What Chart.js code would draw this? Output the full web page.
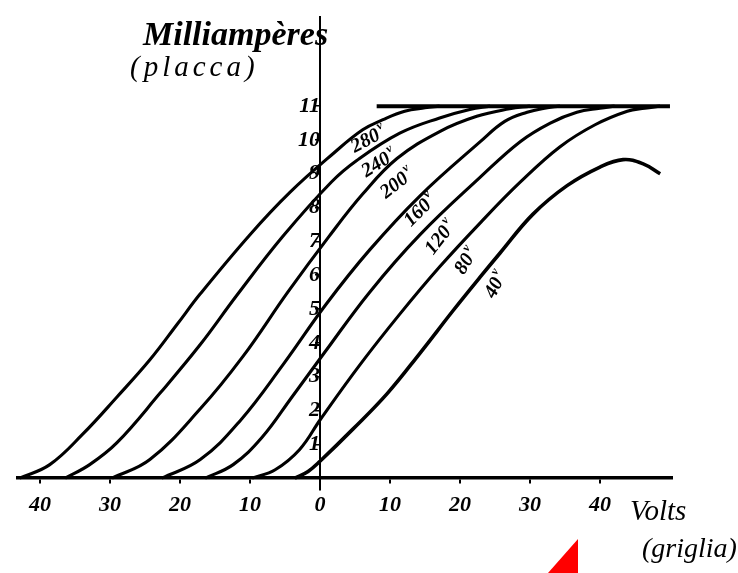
<!DOCTYPE html>
<html>
<head>
<meta charset="utf-8">
<script src="https://cdn.jsdelivr.net/npm/chart.js@4"></script>
<style>
  html, body { margin: 0; padding: 0; background: #fff; }
</style>
</head>
<body>
<canvas id="chart" width="738" height="573"></canvas>
<script>
// Plate current (mA) against grid voltage (V), one curve per plate voltage
const volts280 = [-42.9, -38.6, -33.9, -29.0, -24.3, -20.4, -17.1, -10.0, -4.3, 1.9, 6.1, 9.0, 12.1, 15.0, 17.1];
const ma280    = [0, 0.4, 1.3, 2.4, 3.5, 4.55, 5.45, 7.2, 8.45, 9.6, 10.3, 10.6, 10.85, 10.95, 11];

const volts240 = [-36.4, -32.9, -29.0, -22.9, -17.1, -11.9, -5.3, 1.6, 5.3, 11.4, 17.1, 21.4, 24.3];
const ma240    = [0, 0.4, 1.05, 2.5, 3.95, 5.4, 7.15, 8.75, 9.4, 10.2, 10.65, 10.9, 11];

const volts200 = [-29.7, -24.3, -17.1, -11.0, -4.6, 1.3, 6.1, 11.0, 17.1, 22.4, 27.1, 30.0];
const ma200    = [0, 0.55, 2.05, 3.6, 5.5, 7.15, 8.4, 9.45, 10.25, 10.7, 10.92, 11];

const volts160 = [-22.6, -17.1, -11.4, -5.3, 0.9, 7.1, 14.3, 22.9, 26.4, 29.6, 32.1, 34.3];
const ma160    = [0, 0.55, 1.7, 3.35, 5.15, 6.75, 8.35, 9.95, 10.55, 10.82, 10.94, 11];

const volts120 = [-16.4, -12.4, -8.3, -4.0, 0.6, 7.1, 14.3, 22.9, 28.6, 32.9, 36.7, 40.0, 42.1];
const ma120    = [0, 0.4, 1.2, 2.4, 3.7, 5.5, 7.2, 8.9, 9.95, 10.5, 10.82, 10.94, 11];

const volts80 = [-9.7, -6.4, -2.9, 0.1, 5.7, 11.4, 17.1, 22.9, 28.6, 34.3, 39.3, 43.9, 46.4, 48.6];
const ma80    = [0, 0.25, 0.85, 1.75, 3.35, 4.85, 6.25, 7.55, 8.75, 9.8, 10.45, 10.85, 10.94, 11];

const volts40 = [-3.6, -1.7, 0, 4.7, 9.6, 14.3, 19.0, 22.9, 25.7, 30.4, 35.3, 40.0, 43.3, 46.1, 48.6];
const ma40    = [0, 0.2, 0.5, 1.45, 2.5, 3.7, 4.95, 5.95, 6.65, 7.8, 8.65, 9.2, 9.42, 9.3, 9.0];

// saturation line at 11 mA
const satVolts = [8.1, 50.0];
const satMa    = [11, 11];

// tick labels
const xTickValues = [-40, -30, -20, -10, 0, 10, 20, 30, 40];
const yTickValues = [1, 2, 3, 4, 5, 6, 7, 8, 9, 10, 11];

// curve labels (plate volts) and where they sit, in grid V / plate mA
const curveNames = ['280', '240', '200', '160', '120', '80', '40'];
const nameVolts  = [6.9, 8.4, 11.0, 14.3, 17.2, 20.9, 25.1];
const nameMa     = [10.0, 9.3, 8.7, 7.9, 7.1, 6.4, 5.7];
const nameAngles = [-28, -32, -38, -45, -52, -58, -62];

const curves = [
  [volts280, ma280], [volts240, ma240], [volts200, ma200], [volts160, ma160],
  [volts120, ma120], [volts80, ma80], [volts40, ma40]
];

function zip(xs, ys) {
  return xs.map((x, i) => ({ x: x, y: ys[i] }));
}

const datasets = curves.map((c, i) => ({
  label: curveNames[i] + 'V',
  data: zip(c[0], c[1]),
  borderColor: '#000',
  borderWidth: i === 6 ? 3.6 : 3.1,
  pointRadius: 0,
  tension: 0.4,
  fill: false
}));
datasets.push({
  label: 'sat',
  data: zip(satVolts, satMa),
  borderColor: '#000',
  borderWidth: 4,
  pointRadius: 0,
  fill: false
});

const handFont = '"Liberation Serif", "DejaVu Serif", serif';

const textPlugin = {
  id: 'texts',
  afterDatasetsDraw(chart) {
    const { ctx, scales: { x, y } } = chart;
    ctx.save();
    ctx.fillStyle = '#000';
    // curve labels
    curveNames.forEach((name, i) => {
      ctx.save();
      ctx.translate(x.getPixelForValue(nameVolts[i]), y.getPixelForValue(nameMa[i]));
      ctx.rotate(nameAngles[i] * Math.PI / 180);
      ctx.font = 'italic bold 20px ' + handFont;
      ctx.textBaseline = 'middle';
      const w = ctx.measureText(name).width;
      ctx.textAlign = 'left';
      ctx.fillText(name, -w / 2 - 3, 0);
      ctx.font = 'italic bold 12px ' + handFont;
      ctx.fillText('v', w / 2 - 1, -7);
      ctx.restore();
    });
    // axis titles
    ctx.textAlign = 'left';
    ctx.textBaseline = 'alphabetic';
    ctx.font = 'italic bold 34px ' + handFont;
    ctx.fillText('Milliampères', 143, 45);
    ctx.font = 'italic 29px ' + handFont;
    ctx.letterSpacing = '4px';
    ctx.fillText('(placca)', 130, 76);
    ctx.letterSpacing = '0px';
    ctx.font = 'italic 29px ' + handFont;
    ctx.fillText('Volts', 630, 520);
    ctx.font = 'italic 28px ' + handFont;
    ctx.fillText('(griglia)', 642, 557);
    ctx.restore();
  },
  afterDraw(chart) {
    // red marker at the bottom
    const ctx = chart.ctx;
    ctx.save();
    ctx.fillStyle = '#ff0000';
    ctx.beginPath();
    ctx.moveTo(548, 573);
    ctx.lineTo(578, 539);
    ctx.lineTo(578, 573);
    ctx.closePath();
    ctx.fill();
    ctx.restore();
  }
};

const bgPlugin = {
  id: 'bg',
  beforeDraw(chart) {
    const ctx = chart.ctx;
    ctx.save();
    ctx.fillStyle = '#fff';
    ctx.fillRect(0, 0, chart.width, chart.height);
    ctx.restore();
  }
};

new Chart(document.getElementById('chart'), {
  type: 'line',
  data: { datasets: datasets },
  plugins: [bgPlugin, textPlugin],
  options: {
    responsive: false,
    animation: false,
    layout: { padding: { left: 18, right: 66, top: 12, bottom: 83 } },
    plugins: { legend: { display: false }, tooltip: { enabled: false } },
    scales: {
      x: {
        type: 'linear',
        min: -43.14,
        max: 50.29,
        position: { y: 0 },
        afterFit: s => { s.height = 0; },
        afterBuildTicks: s => { s.ticks = xTickValues.map(v => ({ value: v })); },
        grid: { display: true, drawOnChartArea: false, drawTicks: true, tickLength: 4, color: '#000', lineWidth: 2 },
        border: { display: true, color: '#000', width: 3.5 },
        ticks: {
          callback: v => String(Math.abs(v)),
          color: '#000',
          font: { family: handFont, size: 22, style: 'italic', weight: 'bold' },
          padding: 10,
          maxRotation: 0,
          autoSkip: false
        }
      },
      y: {
        type: 'linear',
        min: -0.35,
        max: 13.63,
        position: { x: 0 },
        afterFit: s => { s.width = 0; },
        afterBuildTicks: s => { s.ticks = yTickValues.map(v => ({ value: v })); },
        grid: { display: true, drawOnChartArea: false, drawTicks: true, tickLength: 4, color: '#000', lineWidth: 1.5 },
        border: { display: true, color: '#000', width: 2 },
        ticks: {
          color: '#000',
          font: { family: handFont, size: 22, style: 'italic', weight: 'bold' },
          padding: 4,
          autoSkip: false
        }
      }
    }
  }
});
</script>
</body>
</html>
